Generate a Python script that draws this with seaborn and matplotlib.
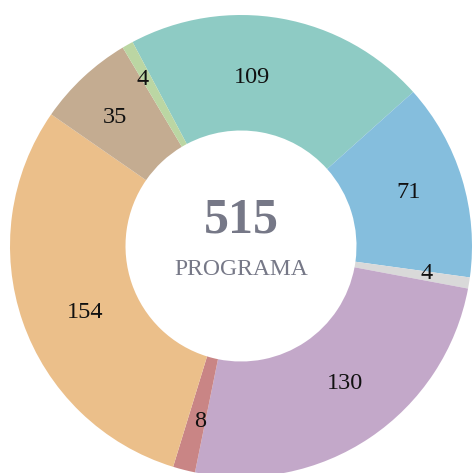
import matplotlib
matplotlib.use("Agg")
import numpy as np
import matplotlib.pyplot as plt
import seaborn as sns

# datos del gráfico
categorias = ["A", "B", "C", "D", "E", "F", "G", "H"]
valores = [109, 71, 4, 130, 8, 154, 35, 4]
colores = ["#8ecbc4", "#85bedd", "#d9d9d9", "#c3a8c9",
           "#c98585", "#ebbf8a", "#c4ac91", "#bbd6a3"]
total = sum(valores)
subtitulo = "PROGRAMA"

# ajuste fino de la posición de las etiquetas (radio, desplazamiento angular)
radio_etq = [0.73, 0.76, 0.81, 0.745, 0.78, 0.735, 0.78, 0.835]
desv_etq = [6.4, 0.6, 0.9, 3.2, 1.1, 4.1, 1.3, 1.2]

sns.set_theme(style="white")
plt.rcParams["font.family"] = ["Liberation Serif", "DejaVu Serif"]

fig = plt.figure(figsize=(4.72, 4.73), dpi=100)
ax = fig.add_axes([0, 0, 1, 1])

wedges, texts = ax.pie(
    valores,
    colors=colores,
    startangle=118,
    counterclock=False,
    radius=1,
    labels=[str(v) for v in valores],
    labeldistance=0.74,
    wedgeprops=dict(width=0.5, linewidth=0),
    textprops=dict(fontsize=17.5, color="#111111", ha="center", va="center"),
)

for w, t, r, d in zip(wedges, texts, radio_etq, desv_etq):
    ang = np.deg2rad((w.theta1 + w.theta2) / 2 + d)
    t.set_position((r * np.cos(ang), r * np.sin(ang)))

ax.text(0, 0.11, str(total), ha="center", va="center",
        fontsize=36, fontweight="bold", color="#767887")
ax.text(0, -0.10, subtitulo, ha="center", va="center",
        fontsize=17, color="#767887")

ax.set_xlim(-241 / 231, (472 - 241) / 231)
ax.set_ylim(-(473 - 246) / 231, 246 / 231)
ax.set_aspect("auto")
ax.axis("off")

fig.savefig("out.png", dpi=100)
